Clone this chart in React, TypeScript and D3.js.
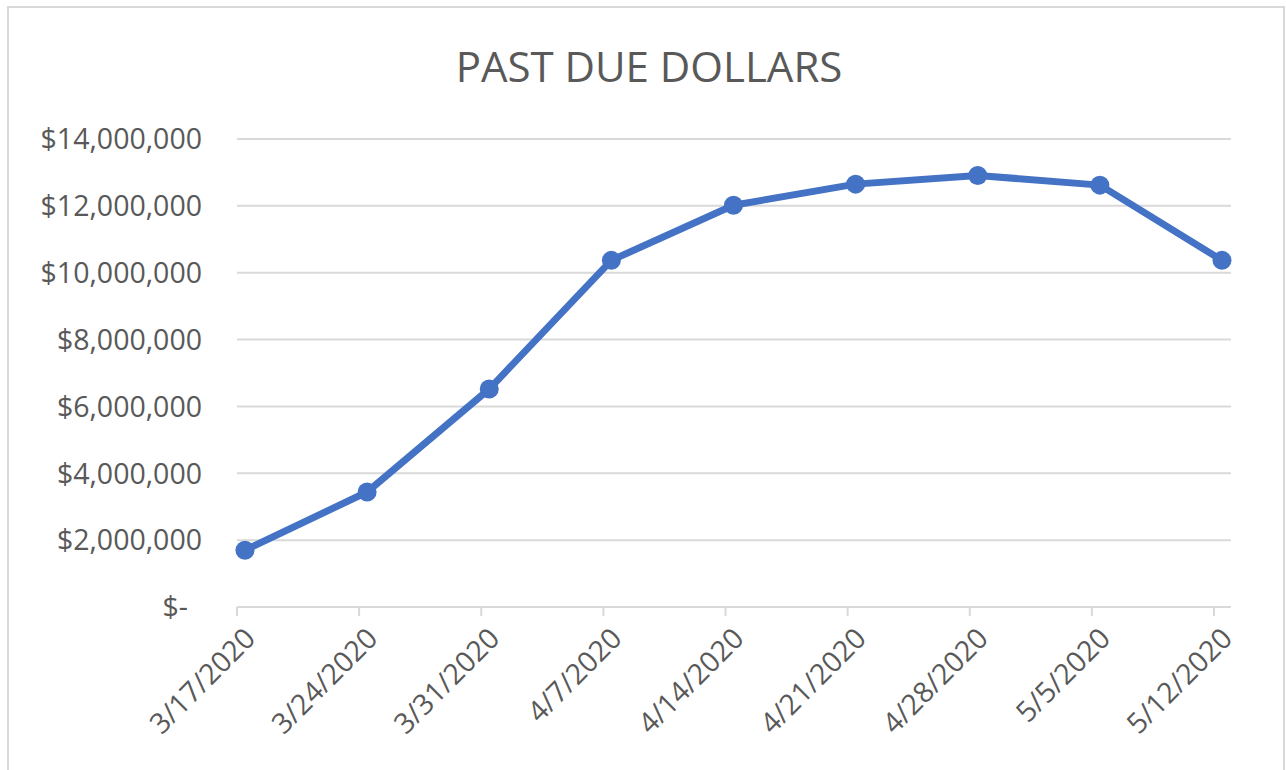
import React from 'react';
import * as d3 from 'd3';

const dates = ['3/17/2020', '3/24/2020', '3/31/2020', '4/7/2020', '4/14/2020', '4/21/2020', '4/28/2020', '5/5/2020', '5/12/2020'];
const pastDue = [1700000, 3440000, 6520000, 10370000, 12020000, 12650000, 12910000, 12620000, 10370000];
const yTicks = [0, 2000000, 4000000, 6000000, 8000000, 10000000, 12000000, 14000000];

const W = 1286, H = 770;
const font = '"Open Sans", sans-serif';
const grey = '#595959';

function fmt(v: number) {
  if (v === 0) return '$-';
  return '$' + d3.format(',')(v);
}

export default function App() {
  // points sit a few px right of the category ticks in the original
  const x = d3.scalePoint<string>().domain(dates).range([245, 1222]);
  const tickShift = -8;
  const y = d3.scaleLinear().domain([0, 14000000]).range([607, 139]);

  const line = d3.line<number>()
    .x((_, i) => x(dates[i]) as number)
    .y(d => y(d));

  return (
    <svg width={W} height={H} style={{ position: 'absolute', left: 0, top: 0, background: '#fff' }}>
      <rect x={8} y={7} width={1276} height={H} fill="#fff" stroke="#d9d9d9" strokeWidth={2} />

      <text x={649} y={82} textAnchor="middle" fontFamily={font} fontSize={42} fill={grey}>
        PAST DUE DOLLARS
      </text>

      {/* gridlines */}
      {yTicks.map(t => (
        <line key={t} x1={237} x2={1231} y1={y(t)} y2={y(t)} stroke="#d9d9d9" strokeWidth={2} />
      ))}

      {/* y labels */}
      {yTicks.map(t => (
        <text key={'l' + t} x={t === 0 ? 188 : 202} y={y(t)} dy="0.36em" textAnchor="end"
          fontFamily={font} fontSize={28.5} fill={grey}>
          {fmt(t)}
        </text>
      ))}

      {/* x ticks */}
      {dates.map(d => (
        <line key={'t' + d} x1={(x(d) as number) + tickShift} x2={(x(d) as number) + tickShift}
          y1={607} y2={616} stroke="#d9d9d9" strokeWidth={2} />
      ))}

      {/* x labels */}
      {dates.map(d => (
        <text key={'x' + d} transform={`translate(${(x(d) as number) + tickShift + 6},${626}) rotate(-45)`}
          dy="0.7em" textAnchor="end" fontFamily={font} fontSize={28.5} fill={grey}>
          {d}
        </text>
      ))}

      <path d={line(pastDue) || ''} fill="none" stroke="#4472C4" strokeWidth={7} strokeLinejoin="round" strokeLinecap="round" />

      {pastDue.map((v, i) => (
        <circle key={i} cx={x(dates[i]) as number} cy={y(v)} r={9.5} fill="#4472C4" />
      ))}
    </svg>
  );
}
